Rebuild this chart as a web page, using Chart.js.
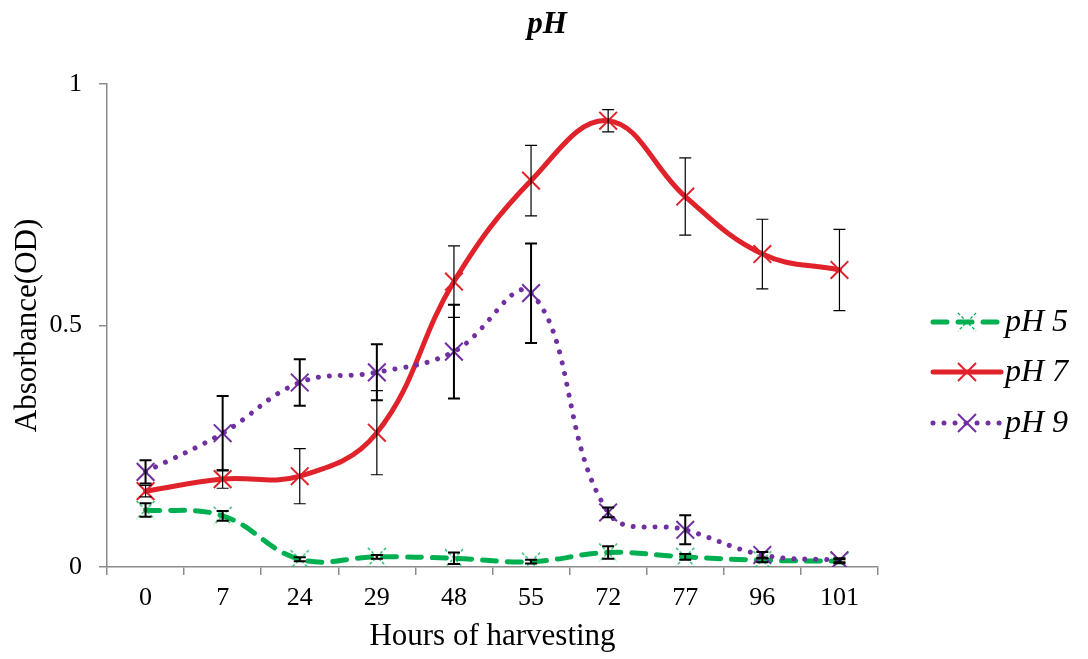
<!DOCTYPE html>
<html>
<head>
<meta charset="utf-8">
<script src="https://cdn.jsdelivr.net/npm/chart.js@4/dist/chart.umd.min.js"></script>
<style>
  html, body { margin: 0; padding: 0; background: #ffffff; }
  #wrap { width: 1088px; height: 659px; }
</style>
</head>
<body>
<div id="wrap"><canvas id="c" width="1088" height="659"></canvas></div>
<script>
const categories = ['0', '7', '24', '29', '48', '55', '72', '77', '96', '101'];
const ph5 = [0.118, 0.106, 0.016, 0.021, 0.018, 0.011, 0.030, 0.021, 0.014, 0.012];
const ph5Err = [0.014, 0.010, 0.004, 0.004, 0.012, 0.004, 0.013, 0.006, 0.004, 0.004];
const ph7 = [0.157, 0.182, 0.188, 0.278, 0.591, 0.800, 0.924, 0.767, 0.648, 0.615];
const ph7Err = [0.012, 0.019, 0.057, 0.087, 0.074, 0.073, 0.023, 0.080, 0.072, 0.084];
const ph9 = [0.197, 0.277, 0.382, 0.403, 0.446, 0.567, 0.113, 0.077, 0.025, 0.014];
const ph9Err = [0.024, 0.077, 0.048, 0.058, 0.097, 0.103, 0.010, 0.030, 0.006, 0.004];
const seriesNames = ['pH 5', 'pH 7', 'pH 9'];
const yTicks = [0, 0.5, 1];
const yTickLabels = ['0', '0.5', '1'];

const GREEN = '#00B050', RED = '#E0232B', PURPLE = '#7030A0', AXIS = '#8c8c8c';
const FONT = "'Liberation Serif', 'Times New Roman', serif";

// dashed cross marker for pH 5
function dashedCross(color) {
  const c = document.createElement('canvas');
  c.width = 22; c.height = 22;
  const g = c.getContext('2d');
  g.strokeStyle = color; g.lineWidth = 1.3; g.setLineDash([3, 2]);
  g.beginPath(); g.moveTo(2, 2); g.lineTo(20, 20); g.moveTo(20, 2); g.lineTo(2, 20); g.stroke();
  return c;
}
const greenMarker = dashedCross(GREEN);

const errs = [ph5Err, ph7Err, ph9Err];
const errWidths = [2, 1.2, 2];

const errorBars = {
  id: 'errorBars',
  afterDatasetsDraw(chart) {
    const ctx = chart.ctx, y = chart.scales.y;
    ctx.save();
    ctx.strokeStyle = '#000';
    chart.data.datasets.forEach((ds, i) => {
      const meta = chart.getDatasetMeta(i);
      ctx.lineWidth = errWidths[i];
      meta.data.forEach((pt, j) => {
        const v = ds.data[j], e = errs[i][j];
        const y1 = y.getPixelForValue(v + e), y2 = y.getPixelForValue(v - e);
        const x = pt.x;
        ctx.beginPath();
        ctx.moveTo(x, y1); ctx.lineTo(x, y2);
        ctx.moveTo(x - 6, y1); ctx.lineTo(x + 6, y1);
        ctx.moveTo(x - 6, y2); ctx.lineTo(x + 6, y2);
        ctx.stroke();
      });
    });
    ctx.restore();
  }
};

const extras = {
  id: 'extras',
  afterDraw(chart) {
    const ctx = chart.ctx;
    ctx.save();
    // title
    ctx.fillStyle = '#000';
    ctx.font = "italic bold 31px " + FONT;
    ctx.textAlign = 'center'; ctx.textBaseline = 'middle';
    ctx.fillText('pH', 547, 25);
    // legend
    const ys = [322, 372, 423];
    chart.data.datasets.forEach((ds, i) => {
      const yy = ys[i];
      ctx.save();
      ctx.strokeStyle = ds.borderColor;
      ctx.lineWidth = ds.borderWidth;
      ctx.lineCap = 'round';
      ctx.setLineDash(ds.borderDash || []);
      ctx.beginPath(); ctx.moveTo(933, yy); ctx.lineTo(1001, yy); ctx.stroke();
      ctx.restore();
      if (i === 0) {
        ctx.drawImage(greenMarker, 967 - 11, yy - 11);
      } else {
        ctx.save();
        ctx.strokeStyle = ds.borderColor; ctx.lineWidth = 2;
        ctx.beginPath();
        ctx.moveTo(958, yy - 9); ctx.lineTo(976, yy + 9);
        ctx.moveTo(976, yy - 9); ctx.lineTo(958, yy + 9);
        ctx.stroke();
        ctx.restore();
      }
      ctx.fillStyle = '#000';
      ctx.font = "italic 32px " + FONT;
      ctx.textAlign = 'left'; ctx.textBaseline = 'middle';
      ctx.fillText(seriesNames[i], 1005, yy + 1);
    });
    ctx.restore();
  }
};

new Chart(document.getElementById('c'), {
  type: 'line',
  data: {
    labels: categories,
    datasets: [
      { label: seriesNames[0], data: ph5, borderColor: GREEN, backgroundColor: GREEN,
        borderWidth: 5, borderDash: [14, 11], borderCapStyle: 'round', tension: 0.4,
        pointStyle: greenMarker, pointRadius: 11, order: 2 },
      { label: seriesNames[1], data: ph7, borderColor: RED, backgroundColor: RED,
        borderWidth: 5, borderCapStyle: 'round', tension: 0.4,
        pointStyle: 'crossRot', pointRadius: 12.5, pointBorderWidth: 2, pointBorderColor: RED, order: 1 },
      { label: seriesNames[2], data: ph9, borderColor: PURPLE, backgroundColor: PURPLE,
        borderWidth: 5, borderDash: [0.01, 11], borderCapStyle: 'round', tension: 0.4,
        pointStyle: 'crossRot', pointRadius: 12.5, pointBorderWidth: 2, pointBorderColor: PURPLE, order: 0 }
    ]
  },
  options: {
    responsive: false,
    animation: false,
    events: [],
    layout: { padding: { top: 84, right: 210, left: 0, bottom: 0 } },
    plugins: { legend: { display: false }, title: { display: false }, tooltip: { enabled: false } },
    scales: {
      x: {
        type: 'category',
        offset: true,
        grid: { offset: true, drawOnChartArea: false, drawTicks: true, tickLength: 8, color: AXIS, lineWidth: 1.5 },
        border: { color: AXIS, width: 1.5 },
        ticks: { color: '#000', font: { family: FONT, size: 26 }, padding: 8, maxRotation: 0, autoSkip: false },
        title: { display: true, text: 'Hours of harvesting', color: '#000', font: { family: FONT, size: 31 }, padding: { top: 0, bottom: 4 } },
        afterFit(s) { s.height = 92; }
      },
      y: {
        min: 0, max: 1,
        afterBuildTicks(s) { s.ticks = yTicks.map(v => ({ value: v })); },
        grid: { drawOnChartArea: false, drawTicks: true, tickLength: 8, color: AXIS, lineWidth: 1.5 },
        border: { color: AXIS, width: 1.5 },
        ticks: { color: '#000', font: { family: FONT, size: 26 }, padding: 17,
                 callback: (v) => yTickLabels[yTicks.indexOf(v)] },
        title: { display: true, text: 'Absorbance(OD)', color: '#000', font: { family: FONT, size: 31 }, padding: { top: 9, bottom: 0 } },
        afterFit(s) { s.width = 107; }
      }
    }
  },
  plugins: [errorBars, extras]
});
</script>
</body>
</html>
